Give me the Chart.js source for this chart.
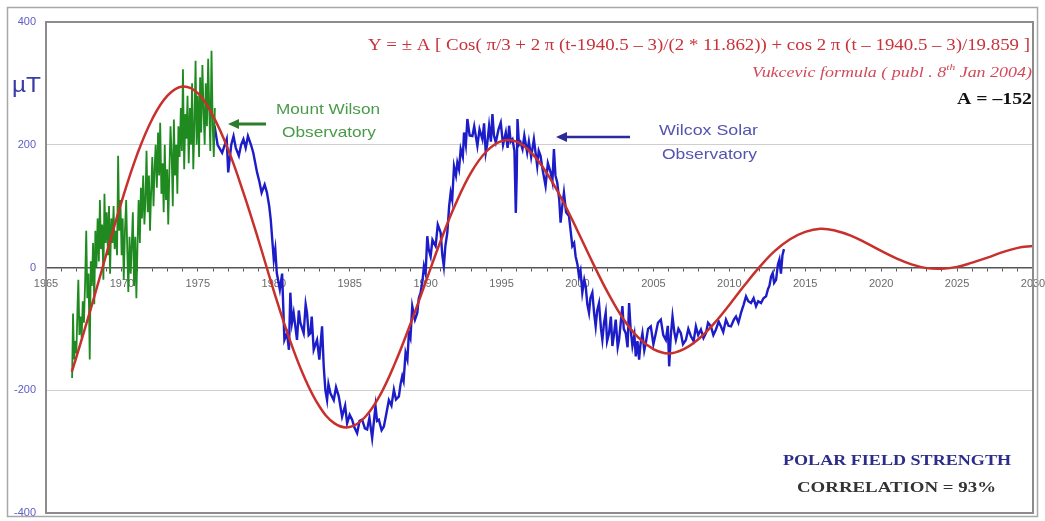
<!DOCTYPE html>
<html lang="en">
<head>
  <meta charset="UTF-8" />
  <title>Polar Field Strength</title>
  <script src="https://cdn.jsdelivr.net/npm/chart.js"></script>
  <style>
    body { margin: 0; background: #fff; }
    canvas { display: block; }
  </style>
</head>
<body>
  <canvas id="polarChart" width="1045" height="521"></canvas>

  <script>
    // tick labels
    const xTickLabels = ['1965', '1970', '1975', '1980', '1985', '1990', '1995', '2000', '2005', '2010', '2015', '2020', '2025', '2030'];
    const yTickLabels = ['-400', '-200', '0', '200', '400'];

    // Vukcevic formula curve (red)
    const formulaYears = [1966.7, 1967, 1968, 1969, 1970, 1971, 1972, 1973, 1974, 1975, 1976, 1977, 1978, 1979, 1980,
      1981, 1982, 1983, 1984, 1985, 1986, 1987, 1988, 1989, 1990, 1991, 1992, 1993, 1994, 1995, 1996, 1997, 1998, 1999,
      2000, 2001, 2002, 2003, 2004, 2005, 2006, 2007, 2008, 2009, 2010, 2011, 2012, 2013, 2014, 2015, 2016, 2017, 2018,
      2019, 2020, 2021, 2022, 2023, 2024, 2025, 2026, 2027, 2028, 2029, 2030];
    const formulaValues = [-170, -146, -63, 24, 109, 184, 242, 280, 295, 284, 247, 192, 122, 44, -38,
      -114, -178, -226, -254, -260, -244, -208, -155, -92, -24, 44, 105, 155, 189, 206, 205, 186, 153, 110,
      60, 8, -41, -83, -114, -133, -140, -133, -116, -91, -61, -29, 1, 27, 46, 58, 63, 60, 52,
      40, 27, 15, 5, -1, -2, 1, 8, 16, 25, 32, 35];

    // Mount Wilson Observatory (green)
    const wilsonYears = [1966.72, 1966.78, 1966.85, 1966.92, 1967.00, 1967.08, 1967.13, 1967.20, 1967.28, 1967.35,
      1967.42, 1967.50, 1967.58, 1967.65, 1967.72, 1967.80, 1967.88, 1967.95, 1968.02, 1968.10, 1968.18, 1968.25,
      1968.32, 1968.40, 1968.48, 1968.55, 1968.62, 1968.70, 1968.78, 1968.85, 1968.92, 1969.00, 1969.08, 1969.15,
      1969.22, 1969.30, 1969.38, 1969.45, 1969.52, 1969.60, 1969.68, 1969.75, 1969.82, 1969.90, 1969.98, 1970.05,
      1970.12, 1970.20, 1970.28, 1970.35, 1970.42, 1970.50, 1970.58, 1970.65, 1970.72, 1970.80, 1970.88, 1970.95,
      1971.02, 1971.10, 1971.18, 1971.25, 1971.32, 1971.40, 1971.48, 1971.55, 1971.62, 1971.70, 1971.78, 1971.85,
      1971.92, 1972.00, 1972.08, 1972.15, 1972.22, 1972.30, 1972.38, 1972.45, 1972.52, 1972.60, 1972.68, 1972.75,
      1972.82, 1972.90, 1972.98, 1973.05, 1973.12, 1973.20, 1973.28, 1973.35, 1973.42, 1973.50, 1973.58, 1973.65,
      1973.72, 1973.80, 1973.88, 1973.95, 1974.02, 1974.10, 1974.18, 1974.25, 1974.32, 1974.40, 1974.48, 1974.55,
      1974.62, 1974.70, 1974.78, 1974.85, 1974.92, 1975.00, 1975.08, 1975.15, 1975.22, 1975.30, 1975.38, 1975.45,
      1975.52, 1975.60, 1975.68, 1975.75, 1975.82, 1975.90, 1975.98, 1976.05, 1976.12];
    const wilsonValues = [-180, -75, -150, -120, -140, -60, -20, -110, -80, -115,
      -55, -90, -20, 60, -50, -10, -150, 10, -30, 40, -60, 60,
      0, 80, 10, 110, 30, 70, -20, 120, 40, 90, 20, 100,
      -10, 80, 40, 100, 30, 60, 20, 182, 60, 110, 20, 80,
      -20, 60, 110, 30, -40, 50, -10, 40, 90, -30, 50, -50,
      30, 110, 40, 130, 80, 150, 70, 110, 190, 90, 150, 60,
      120, 180, 100, 160, 200, 130, 220, 150, 236, 120, 170, 90,
      200, 110, 160, 70, 150, 230, 180, 100, 241, 150, 200, 120,
      230, 180, 260, 190, 323, 160, 250, 210, 280, 170, 260, 200,
      300, 160, 240, 337, 200, 280, 180, 310, 220, 330, 250, 200,
      300, 230, 340, 260, 190, 353, 230, 180, 260];

    // Wilcox Solar Observatory (blue)
    const wilcoxYears = [1976.1, 1976.3, 1976.6, 1976.9, 1977.0, 1977.2, 1977.35, 1977.5, 1977.7, 1977.85,
      1978.0, 1978.15, 1978.3, 1978.5, 1978.65, 1978.9, 1979.05, 1979.2, 1979.4, 1979.55,
      1979.7, 1979.8, 1980.0, 1980.1, 1980.2, 1980.4, 1980.55, 1980.7, 1980.87, 1981.0,
      1981.09, 1981.2, 1981.31, 1981.53, 1981.65, 1981.75, 1981.97, 1982.1, 1982.19, 1982.3,
      1982.41, 1982.5, 1982.63, 1982.85, 1983.0, 1983.18, 1983.29, 1983.4, 1983.51, 1983.6,
      1983.73, 1983.95, 1984.1, 1984.28, 1984.5, 1984.7, 1984.83, 1985.0, 1985.16, 1985.3,
      1985.49, 1985.65, 1985.82, 1986.0, 1986.15, 1986.3, 1986.48, 1986.7, 1986.8, 1986.92,
      1987.1, 1987.25, 1987.4, 1987.58, 1987.75, 1987.91, 1988.05, 1988.24, 1988.35, 1988.46,
      1988.55, 1988.68, 1988.8, 1988.9, 1989.0, 1989.12, 1989.3, 1989.45, 1989.55, 1989.67,
      1989.8, 1989.89, 1990.0, 1990.11, 1990.2, 1990.33, 1990.45, 1990.66, 1990.8, 1990.99,
      1991.1, 1991.2, 1991.3, 1991.43, 1991.55, 1991.65, 1991.75, 1991.87, 1992.0, 1992.09,
      1992.2, 1992.31, 1992.45, 1992.53, 1992.65, 1992.75, 1992.9, 1993.08, 1993.2, 1993.41,
      1993.55, 1993.74, 1993.85, 1993.96, 1994.05, 1994.18, 1994.3, 1994.4, 1994.5, 1994.62,
      1994.8, 1994.95, 1995.1, 1995.28, 1995.4, 1995.5, 1995.6, 1995.72, 1995.85, 1995.94,
      1996.0, 1996.05, 1996.15, 1996.25, 1996.38, 1996.5, 1996.69, 1996.8, 1996.95, 1997.13,
      1997.25, 1997.35, 1997.45, 1997.57, 1997.7, 1997.9, 1998.05, 1998.23, 1998.35, 1998.45,
      1998.55, 1998.67, 1998.8, 1998.89, 1999.0, 1999.11, 1999.25, 1999.44, 1999.55, 1999.66,
      1999.78, 1999.88, 2000.0, 2000.1, 2000.2, 2000.32, 2000.45, 2000.54, 2000.65, 2000.76,
      2000.85, 2000.98, 2001.1, 2001.2, 2001.3, 2001.42, 2001.55, 2001.64, 2001.75, 2001.86,
      2001.95, 2002.08, 2002.2, 2002.3, 2002.4, 2002.52, 2002.65, 2002.74, 2002.85, 2002.96,
      2003.05, 2003.18, 2003.3, 2003.4, 2003.5, 2003.62, 2003.75, 2003.84, 2003.95, 2004.06,
      2004.15, 2004.28, 2004.4, 2004.5, 2004.65, 2004.83, 2005.0, 2005.16, 2005.3, 2005.49,
      2005.65, 2005.82, 2005.95, 2006.04, 2006.15, 2006.26, 2006.38, 2006.48, 2006.65, 2006.81,
      2006.95, 2007.14, 2007.3, 2007.47, 2007.65, 2007.8, 2007.95, 2008.13, 2008.3, 2008.46,
      2008.6, 2008.79, 2008.95, 2009.12, 2009.3, 2009.45, 2009.6, 2009.78, 2009.95, 2010.11,
      2010.3, 2010.44, 2010.6, 2010.77, 2010.95, 2011.1, 2011.25, 2011.43, 2011.6, 2011.76,
      2011.9, 2012.09, 2012.25, 2012.42, 2012.55, 2012.64, 2012.75, 2012.86, 2012.95, 2013.08,
      2013.2, 2013.3, 2013.4, 2013.5, 2013.6];
    const wilcoxValues = [231, 200, 187, 209, 155, 200, 214, 195, 182, 200,
      209, 195, 214, 200, 187, 155, 140, 122, 135, 122,
      100, 78, 13, 30, -9, -36, -10, -118, -107, -134,
      -41, -90, -74, -118, -70, -90, -107, -60, -74, -110,
      -107, -80, -134, -118, -150, -96, -161, -200, -216, -190,
      -205, -216, -195, -210, -243, -225, -254, -240, -248, -260,
      -270, -250, -248, -262, -264, -245, -278, -226, -250, -248,
      -265, -259, -240, -216, -225, -199, -215, -210, -190, -177,
      -185, -139, -150, -107, -115, -63, -85, -74, -50, -41,
      -20, 2, -10, 51, 30, 18, 45, 35, 70, 57,
      20, 2, 35, 57, 100, 122, 110, 165, 150, 171,
      160, 193, 180, 220, 200, 242, 215, 214, 230, 198,
      225, 209, 235, 187, 200, 231, 205, 250, 215, 204,
      225, 236, 200, 220, 195, 231, 205, 209, 190, 89,
      150, 242, 200, 204, 193, 215, 187, 205, 180, 209,
      185, 165, 190, 182, 160, 133, 170, 155, 140, 193,
      150, 138, 110, 73, 100, 122, 90, 84, 60, 35,
      40, 18, 5, -14, -5, -41, -20, -30, -60, -74,
      -50, -41, -75, -96, -70, -58, -100, -118, -90, -74,
      -120, -107, -80, -128, -110, -85, -130, -118, -90, -63,
      -100, -107, -130, -58, -100, -128, -110, -145, -120, -150,
      -125, -107, -135, -123, -100, -96, -125, -107, -90, -85,
      -110, -118, -95, -161, -110, -80, -105, -118, -100, -107,
      -125, -118, -100, -112, -120, -96, -110, -101, -115, -107,
      -90, -96, -110, -101, -88, -96, -105, -85, -95, -96,
      -85, -80, -90, -74, -60, -47, -55, -58, -50, -63,
      -55, -58, -50, -47, -35, -30, -15, -9, -25, -20,
      5, 13, -10, 20, 30];

    const toPoints = (xs, ys) => xs.map((x, i) => ({ x: x, y: ys[i] }));

    const sansFont = 'Arial, "Liberation Sans", sans-serif';
    const serifFont = '"Times New Roman", "Liberation Serif", serif';

    // draws text from its left edge, stretched sideways to a given width
    function fitText(ctx, text, left, y, width) {
      const w = ctx.measureText(text).width;
      ctx.save();
      ctx.translate(left, y);
      ctx.scale(width / w, 1);
      ctx.textAlign = 'left';
      ctx.fillText(text, 0, 0);
      ctx.restore();
    }

    function arrowLeft(ctx, x1, x2, y, color, width) {
      ctx.save();
      ctx.strokeStyle = color;
      ctx.fillStyle = color;
      ctx.lineWidth = width;
      ctx.beginPath();
      ctx.moveTo(x1, y);
      ctx.lineTo(x2 + 8, y);
      ctx.stroke();
      ctx.beginPath();
      ctx.moveTo(x2, y);
      ctx.lineTo(x2 + 11, y - 5);
      ctx.lineTo(x2 + 11, y + 5);
      ctx.closePath();
      ctx.fill();
      ctx.restore();
    }

    // frames, notes and arrows
    const decorPlugin = {
      id: 'decor',
      beforeDraw(chart) {
        const ctx = chart.ctx;
        ctx.save();
        ctx.fillStyle = '#fff';
        ctx.fillRect(0, 0, chart.width, chart.height);
        ctx.restore();
      },
      afterDraw(chart) {
        const ctx = chart.ctx;
        const a = chart.chartArea;
        ctx.save();
        ctx.textBaseline = 'middle';

        // outer frame
        ctx.strokeStyle = '#a8a8a8';
        ctx.lineWidth = 1.5;
        ctx.strokeRect(7.5, 7.5, 1030, 509);

        // plot frame
        ctx.strokeStyle = '#8c8c8c';
        ctx.lineWidth = 2;
        ctx.strokeRect(a.left, a.top, a.right - a.left, a.bottom - a.top);

        // unit label
        ctx.fillStyle = '#3c3ca8';
        ctx.font = '22px ' + sansFont;
        fitText(ctx, '\u00b5T', 12, 86, 29);

        // formula
        ctx.fillStyle = '#c8323a';
        ctx.font = '16px ' + serifFont;
        fitText(ctx, 'Y = \u00b1 A [ Cos( \u03c0/3 + 2 \u03c0 (t-1940.5 \u2013 3)/(2 * 11.862)) + cos 2 \u03c0 (t \u2013 1940.5 \u2013 3)/19.859 ]', 368, 46, 662);

        // publication note with superscript
        ctx.fillStyle = '#d24a5a';
        ctx.textAlign = 'left';
        const p1 = 'Vukcevic formula ( publ . 8', sup = 'th', p2 = ' Jan 2004)';
        ctx.font = 'italic 14px ' + serifFont;
        const w1 = ctx.measureText(p1).width, w3 = ctx.measureText(p2).width;
        ctx.font = 'italic 9px ' + serifFont;
        const w2 = ctx.measureText(sup).width;
        ctx.save();
        ctx.translate(752, 73);
        ctx.scale(280 / (w1 + w2 + w3), 1);
        ctx.font = 'italic 14px ' + serifFont;
        ctx.fillText(p1, 0, 0);
        ctx.fillText(p2, w1 + w2, 0);
        ctx.font = 'italic 9px ' + serifFont;
        ctx.fillText(sup, w1, -5);
        ctx.restore();

        ctx.fillStyle = '#111';
        ctx.font = 'bold 17px ' + serifFont;
        fitText(ctx, 'A = \u2013152', 957, 100, 75);

        // observatory notes
        ctx.font = '15px ' + sansFont;
        ctx.fillStyle = '#4a9a4a';
        fitText(ctx, 'Mount Wilson', 276, 110, 104);
        fitText(ctx, 'Observatory', 282, 133, 94);
        ctx.fillStyle = '#5454b0';
        fitText(ctx, 'Wilcox Solar', 659, 131, 99);
        fitText(ctx, 'Observatory', 662, 155, 95);

        arrowLeft(ctx, 266, 228, 124, '#2c7c2c', 3);
        arrowLeft(ctx, 630, 556, 137, '#2a2a9a', 2.5);

        // bottom right notes
        ctx.font = 'bold 15px ' + serifFont;
        ctx.fillStyle = '#2c2c8c';
        fitText(ctx, 'POLAR FIELD STRENGTH', 783, 461, 228);
        ctx.fillStyle = '#333';
        fitText(ctx, 'CORRELATION = 93%', 797, 488, 199);

        ctx.restore();
      }
    };

    const ctx = document.getElementById('polarChart').getContext('2d');
    const polarChart = new Chart(ctx, {
      type: 'line',
      data: {
        datasets: [
          {
            label: 'Vukcevic formula',
            data: toPoints(formulaYears, formulaValues),
            borderColor: '#c8302c',
            borderWidth: 2.5,
            tension: 0.4,
            pointRadius: 0
          },
          {
            label: 'Mount Wilson Observatory',
            data: toPoints(wilsonYears, wilsonValues),
            borderColor: '#1f8a1f',
            borderWidth: 1.8,
            tension: 0,
            pointRadius: 0
          },
          {
            label: 'Wilcox Solar Observatory',
            data: toPoints(wilcoxYears, wilcoxValues),
            borderColor: '#1c1cc8',
            borderWidth: 2.4,
            tension: 0,
            pointRadius: 0
          }
        ]
      },
      options: {
        responsive: false,
        animation: false,
        devicePixelRatio: 1,
        layout: { padding: { left: 0, top: 22, right: 12, bottom: 8 } },
        plugins: {
          legend: { display: false },
          tooltip: { enabled: false }
        },
        scales: {
          x: {
            type: 'linear',
            min: 1965,
            max: 2030,
            position: { y: 0 },
            afterFit(scale) { scale.paddingLeft = 0; scale.paddingRight = 0; },
            ticks: {
              stepSize: 1,
              autoSkip: false,
              maxRotation: 0,
              padding: 7,
              color: '#6a6a6a',
              font: { family: sansFont, size: 11 },
              callback: v => xTickLabels.includes(String(v)) ? String(v) : ''
            },
            grid: { drawOnChartArea: false, drawTicks: true, tickLength: 3, tickColor: '#555' },
            border: { display: true, color: '#555', width: 1.5 }
          },
          y: {
            min: -400,
            max: 400,
            afterFit(scale) { scale.width = 46; scale.paddingTop = 0; scale.paddingBottom = 0; },
            ticks: {
              stepSize: 200,
              padding: 10,
              color: '#5c5cc4',
              font: { family: sansFont, size: 11 },
              callback: v => yTickLabels.includes(String(v)) ? String(v) : ''
            },
            grid: {
              drawTicks: false,
              color: c => (c.tick && Math.abs(c.tick.value) === 200) ? '#cfcfcf' : 'rgba(0,0,0,0)'
            },
            border: { display: false }
          }
        }
      },
      plugins: [decorPlugin]
    });
  </script>
</body>
</html>
